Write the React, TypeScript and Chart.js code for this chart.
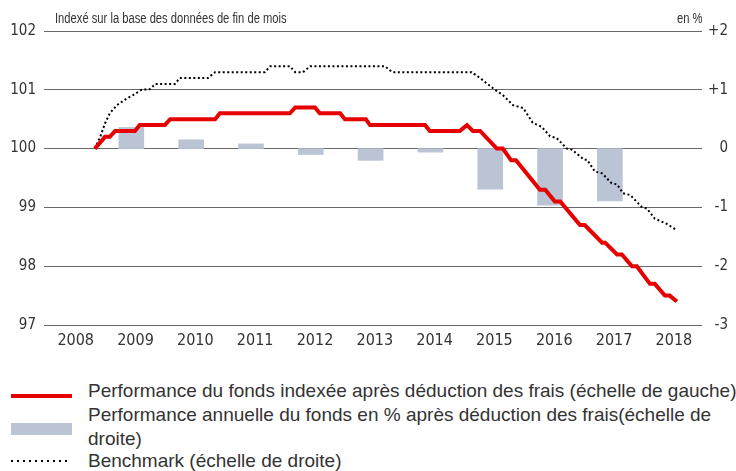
import React, { useEffect, useRef } from 'react';
import { Chart, registerables } from 'chart.js';

Chart.register(...registerables);

// ---- Data ----
const yearLabels = ['2008', '2009', '2010', '2011', '2012', '2013', '2014', '2015', '2016', '2017', '2018'];

// Fund indexed performance after fees (left scale), vertices in decimal years
const fundX = [
  2008.85, 2009.02, 2009.10, 2009.19, 2009.52, 2009.60, 2010.02, 2010.11, 2010.86, 2010.94,
  2012.11, 2012.20, 2012.53, 2012.61, 2012.95, 2013.03, 2013.38, 2013.45, 2014.37, 2014.45,
  2014.95, 2015.07, 2015.17, 2015.29, 2015.57, 2015.67, 2015.81, 2015.89, 2016.29, 2016.38,
  2016.54, 2016.63, 2016.96, 2017.04, 2017.33, 2017.38, 2017.58, 2017.66, 2017.83, 2017.91,
  2018.13, 2018.21, 2018.38, 2018.46, 2018.58,
];
const fundY = [
  100.0, 100.2, 100.2, 100.3, 100.3, 100.4, 100.4, 100.5, 100.5, 100.6,
  100.6, 100.7, 100.7, 100.6, 100.6, 100.5, 100.5, 100.4, 100.4, 100.3,
  100.3, 100.4, 100.3, 100.3, 100.0, 100.0, 99.8, 99.8, 99.3, 99.3,
  99.1, 99.1, 98.7, 98.7, 98.4, 98.4, 98.2, 98.2, 98.0, 98.0,
  97.7, 97.7, 97.5, 97.5, 97.4,
];

// Benchmark (right scale, %)
const benchX = [
  2008.85, 2008.94, 2009.02, 2009.10, 2009.22, 2009.35, 2009.49, 2009.63, 2009.77, 2009.86,
  2010.19, 2010.27, 2010.74, 2010.86, 2011.69, 2011.78, 2012.11, 2012.20, 2012.33, 2012.45,
  2013.70, 2013.82, 2015.15, 2015.29, 2015.54, 2015.67, 2015.84, 2016.01, 2016.17, 2016.32,
  2016.46, 2016.57, 2016.74, 2016.83, 2017.03, 2017.08, 2017.21, 2017.33, 2017.49, 2017.58,
  2017.68, 2017.80, 2017.99, 2018.08, 2018.21, 2018.41, 2018.55,
];
const benchY = [
  0.0, 0.2, 0.43, 0.6, 0.74, 0.83, 0.91, 1.0, 1.01, 1.1,
  1.1, 1.2, 1.2, 1.3, 1.3, 1.4, 1.4, 1.3, 1.3, 1.4,
  1.4, 1.3, 1.3, 1.2, 1.0, 0.91, 0.74, 0.69, 0.44, 0.37,
  0.21, 0.18, 0.0, -0.02, -0.19, -0.19, -0.39, -0.42, -0.59, -0.61,
  -0.76, -0.79, -0.99, -1.02, -1.19, -1.28, -1.37,
];

// Annual fund performance in % (right scale)
const barYears = [2009, 2010, 2011, 2012, 2013, 2014, 2015, 2016, 2017];
const barValues = [0.36, 0.15, 0.08, -0.1, -0.2, -0.06, -0.69, -0.96, -0.89];

const leftTicks = [97, 98, 99, 100, 101, 102];
const rightTicks = ['-3', '-2', '-1', '0', '+1', '+2'];

const titleText = 'Indexé sur la base des données de fin de mois';
const unitText = 'en %';
const legendFund = 'Performance du fonds indexée après déduction des frais (échelle de gauche)';
const legendBarsLine1 = 'Performance annuelle du fonds en % après déduction des frais(échelle de';
const legendBarsLine2 = 'droite)';
const legendBench = 'Benchmark (échelle de droite)';

// ---- Styles ----
const NARROW = '"Liberation Sans Narrow", "DejaVu Sans Condensed", sans-serif';
const LEGEND_FONT = '"Liberation Sans", sans-serif';
const RED = '#e60000';
const BAR = '#bac4d4';
const TEXT = '#333333';
const GRID = '#6a6a6a';
const LABEL_OFFSET = 0.53; // year label centre inside year
const BAR_OFFSET = 0.46;

export default function App() {
  const canvasRef = useRef<HTMLCanvasElement | null>(null);

  useEffect(() => {
    const canvas = canvasRef.current;
    if (!canvas) return;
    const chart = new Chart(canvas, {
      type: 'line',
      data: {
        datasets: [
          {
            type: 'line',
            label: 'fund',
            data: fundX.map((x, i) => ({ x, y: fundY[i] })),
            borderColor: RED,
            borderWidth: 4,
            pointRadius: 0,
            tension: 0,
            yAxisID: 'y',
            order: 0,
          },
          {
            type: 'line',
            label: 'bench',
            data: benchX.map((x, i) => ({ x, y: benchY[i] })),
            borderColor: '#000000',
            borderWidth: 2,
            borderDash: [2, 2.5],
            pointRadius: 0,
            tension: 0,
            yAxisID: 'y1',
            order: 1,
          },
          {
            type: 'bar',
            label: 'bars',
            data: barYears.map((yr, i) => ({ x: yr + BAR_OFFSET, y: barValues[i] })),
            backgroundColor: BAR,
            borderWidth: 0,
            barThickness: 25,
            yAxisID: 'y1',
            order: 2,
          },
        ] as any,
      },
      options: {
        responsive: false,
        maintainAspectRatio: false,
        animation: false,
        devicePixelRatio: 1,
        layout: { padding: { top: 31, left: 0, right: 8, bottom: 0 } },
        plugins: { legend: { display: false }, tooltip: { enabled: false }, title: { display: false } },
        scales: {
          x: {
            type: 'linear',
            min: 2008,
            max: 2019,
            offset: false,
            grid: { display: false, drawTicks: false },
            border: { display: false },
            afterBuildTicks: (s: any) => {
              s.ticks = yearLabels.map((l) => ({ value: Number(l) + LABEL_OFFSET }));
            },
            afterFit: (s: any) => { s.height = 25; },
            ticks: {
              autoSkip: false,
              maxRotation: 0,
              padding: 6,
              color: TEXT,
              font: { family: NARROW, size: 16 },
              callback: (_v: any, i: number) => yearLabels[i],
            },
          },
          y: {
            position: 'left',
            min: 97,
            max: 102,
            afterBuildTicks: (s: any) => { s.ticks = leftTicks.map((v) => ({ value: v })); },
            afterFit: (s: any) => { s.width = 44; },
            grid: { color: GRID, lineWidth: 1, drawTicks: false },
            border: { display: false },
            ticks: { padding: 8, color: TEXT, font: { family: NARROW, size: 15 } },
          },
          y1: {
            position: 'right',
            min: -3,
            max: 2,
            afterBuildTicks: (s: any) => { s.ticks = rightTicks.map((t) => ({ value: Number(t) })); },
            afterFit: (s: any) => { s.width = 26; },
            grid: { display: false, drawTicks: false },
            border: { display: false },
            ticks: {
              padding: 4,
              crossAlign: 'far',
              color: TEXT,
              font: { family: NARROW, size: 15 },
              callback: (_v: any, i: number) => rightTicks[i],
            },
          },
        },
      } as any,
    });
    return () => chart.destroy();
  }, []);

  const abs = (o: React.CSSProperties): React.CSSProperties => ({ position: 'absolute', whiteSpace: 'nowrap', margin: 0, ...o });
  const condensed: React.CSSProperties = {
    fontFamily: LEGEND_FONT,
    fontSize: 14,
    lineHeight: '14px',
    color: TEXT,
    transform: 'scaleX(0.8)',
    transformOrigin: 'left top',
  };

  return (
    <div style={{ position: 'fixed', left: 0, top: 0, width: 736, height: 471, background: '#fff', overflow: 'hidden' }}>
      <canvas ref={canvasRef} width={736} height={350} style={{ position: 'absolute', left: 0, top: 0, width: 736, height: 350 }} />
      <div style={abs({ left: 55, top: 11, ...condensed })}>{titleText}</div>
      <div style={abs({ left: 677, top: 11, ...condensed })}>{unitText}</div>

      <div style={abs({ left: 11, top: 394, width: 61, height: 4, background: RED })} />
      <div style={abs({ left: 88, top: 379, fontFamily: LEGEND_FONT, fontSize: 19, lineHeight: '24px', color: TEXT })}>{legendFund}</div>

      <div style={abs({ left: 11, top: 423, width: 61, height: 12, background: BAR })} />
      <div style={abs({ left: 88, top: 403, fontFamily: LEGEND_FONT, fontSize: 19, lineHeight: '24px', color: TEXT })}>
        {legendBarsLine1}
        <br />
        {legendBarsLine2}
      </div>

      <div style={abs({ left: 11, top: 460, width: 56, height: 2, background: 'repeating-linear-gradient(to right, #000 0px, #000 2px, transparent 2px, transparent 6px)' })} />
      <div style={abs({ left: 88, top: 449, fontFamily: LEGEND_FONT, fontSize: 19, lineHeight: '24px', color: TEXT })}>{legendBench}</div>
    </div>
  );
}
